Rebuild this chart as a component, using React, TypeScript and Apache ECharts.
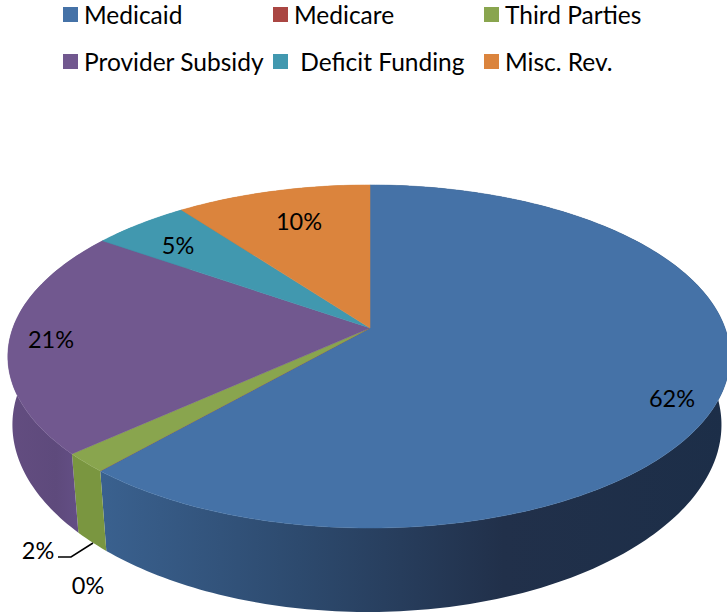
import React, { useEffect, useRef } from "react";
import * as echarts from "echarts";

const categories = ["Medicaid", "Medicare", "Third Parties", "Provider Subsidy", "Deficit Funding", "Misc. Rev."];
const shares = [61.5, 0, 1.8, 21.4, 5.1, 10.2];
const colors = ["#4572A7", "#AA4643", "#89A54E", "#71588F", "#4198AF", "#DB843D"];
const sideStops = [
  [[0, "#1C2E48"], [0.36, "#21304A"], [0.686, "#2D4A6E"], [1, "#3A618F"]],
  [[0, "#8A3836"], [1, "#8A3836"]],
  [[0, "#7A9640"], [1, "#7A9640"]],
  [[0, "#6A5490"], [0.5, "#5E4A7C"], [1, "#634D80"]],
  [[0, "#31859C"], [1, "#31859C"]],
  [[0, "#B66D31"], [1, "#B66D31"]],
];
const labelPos = [[672, 398], [88, 585], [38, 550], [51, 339], [178, 245], [299, 221]];

const FONT = "Lato";
const APEX = { x: 370, y: 328 };
const A = 355, B = 166.8, K = 0.166;
const LEFT_STRETCH = 1.006;
const BASE = { x: 368, y: 398, sx: 0.985, sxFront: 0.02, sy: 1.07 };

function project(deg: number, bottom: boolean) {
  const t = (deg * Math.PI) / 180;
  const u = Math.sin(t), w = -Math.cos(t);
  const d = 1 - K * w;
  const X = ((A * u) / d) * (u < 0 ? LEFT_STRETCH : 1), Y = (B * w) / d;
  return bottom
    ? [BASE.x + X * (BASE.sx - BASE.sxFront * Math.max(0, w)), BASE.y + Y * BASE.sy]
    : [APEX.x + X, APEX.y + Y];
}
function arc(a: number, b: number, bottom: boolean) {
  const n = Math.max(2, Math.ceil(b - a));
  const pts: number[][] = [];
  for (let i = 0; i <= n; i++) pts.push(project(a + ((b - a) * i) / n, bottom));
  return pts;
}

const ranges: number[][] = [];
{
  let acc = 0;
  shares.forEach((v) => {
    ranges.push([acc * 3.6, (acc + v) * 3.6]);
    acc += v;
  });
}

export default function App() {
  const ref = useRef<HTMLDivElement>(null);
  useEffect(() => {
    const chart = echarts.init(ref.current!, undefined, { renderer: "svg" });
    const sides = {
      type: "custom",
      name: "sides",
      coordinateSystem: "none",
      z: 2,
      silent: true,
      data: ranges.map((r, i) => [r[0], r[1], i]),
      renderItem: (_p: any, api: any) => {
        const a = api.value(0), b = api.value(1), i = api.value(2);
        const pts = [...arc(a, b, false), ...arc(a, b, true).reverse()];
        const xs = pts.map((p) => p[0]);
        const x0 = Math.min(...xs), x1 = Math.max(...xs);
        const fill = new echarts.graphic.LinearGradient(
          x1, 0, x0, 0,
          sideStops[i].map((s) => ({ offset: s[0] as number, color: s[1] as string })),
          true
        );
        return { type: "polygon", shape: { points: pts }, style: { fill, stroke: null } };
      },
    };
    const tops = categories.map((name, i) => ({
      type: "custom",
      name,
      coordinateSystem: "none",
      z: 3,
      silent: true,
      itemStyle: { color: colors[i] },
      data: [ranges[i]],
      renderItem: (_p: any, api: any) => {
        const pts = [[APEX.x, APEX.y], ...arc(api.value(0), api.value(1), false)];
        return {
          type: "polygon",
          shape: { points: pts },
          style: { fill: colors[i], stroke: colors[i], lineWidth: 0.5 },
        };
      },
    }));
    const labels = {
      type: "custom",
      name: "labels",
      coordinateSystem: "none",
      z: 5,
      silent: true,
      data: shares.map((v, i) => [v, i]),
      renderItem: (_p: any, api: any) => {
        const i = api.value(1);
        return {
          type: "text",
          x: labelPos[i][0],
          y: labelPos[i][1],
          style: {
            text: Math.round(api.value(0)) + "%",
            font: `23.5px ${FONT}`,
            fill: "#000",
            align: "center",
            verticalAlign: "middle",
          },
        };
      },
    };
    const legendBase = {
      orient: "vertical" as const,
      top: 2,
      itemWidth: 15,
      itemHeight: 15,
      itemGap: 22,
      icon: "rect",
      padding: 0,
      selectedMode: false,
      textStyle: { fontFamily: FONT, fontSize: 24.5, lineHeight: 15, color: "#000", padding: [0, 0, 0, 1] },
      formatter: (n: string) => (n === "Deficit Funding" ? " " + n : n),
    };
    chart.setOption({
      animation: false,
      backgroundColor: "#fff",
      legend: [
        { ...legendBase, left: 63, data: [categories[0], categories[3]] },
        { ...legendBase, left: 273, data: [categories[1], categories[4]] },
        { ...legendBase, left: 484, data: [categories[2], categories[5]] },
      ],
      series: [sides, ...tops, labels],
      graphic: [
        {
          type: "polyline",
          z: 6,
          shape: { points: [[58, 557], [71, 557], [93, 543]] },
          style: { stroke: "#000", lineWidth: 1.5, fill: null },
        },
      ],
    });
    return () => chart.dispose();
  }, []);
  return <div ref={ref} style={{ position: "absolute", left: 0, top: 0, width: 727, height: 613 }} />;
}
